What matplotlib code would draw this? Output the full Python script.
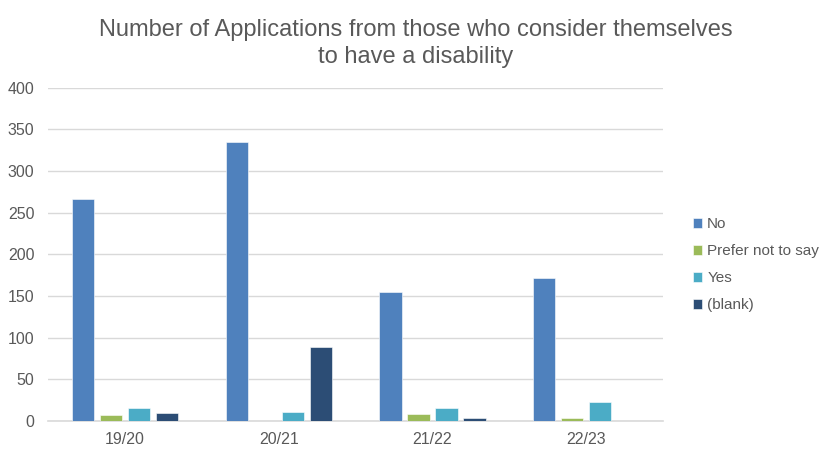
import numpy as np
import matplotlib.pyplot as plt

# data
years = ["19/20", "20/21", "21/22", "22/23"]
series_names = ["No", "Prefer not to say", "Yes", "(blank)"]
no_vals = [266, 335, 155, 172]
pnts_vals = [7, 0, 8, 4]
yes_vals = [16, 11, 15, 23]
blank_vals = [9, 89, 3, 0]

colors = ["#4F81BD", "#9BBB59", "#4BACC6", "#2C4D75"]

plt.rcParams["font.family"] = ["Liberation Sans", "DejaVu Sans"]

fig = plt.figure(figsize=(8.3, 4.57), dpi=100)
ax = fig.add_axes([0.058, 0.079, 0.741, 0.729])

x = np.arange(len(years))
pitch = 0.182
width = 0.145
all_vals = [no_vals, pnts_vals, yes_vals, blank_vals]
for i, (name, vals) in enumerate(zip(series_names, all_vals)):
    ax.bar(x + (i - 1.5) * pitch, vals, width, color=colors[i], label=name,
           edgecolor="white", linewidth=0.4, zorder=3)

ax.set_xlim(-0.5, len(years) - 0.5)
ax.set_ylim(0, 400)
ax.set_yticks(range(0, 401, 50))
ax.set_xticks(x)
ax.set_xticklabels(years)
ax.grid(axis="y", color="#D9D9D9", linewidth=1, zorder=0)
for s in ["left", "right", "top"]:
    ax.spines[s].set_visible(False)
ax.spines["bottom"].set_color("#D9D9D9")
ax.spines["bottom"].set_linewidth(1.2)
ax.tick_params(axis="both", length=0, labelsize=11.5, colors="#595959")
ax.tick_params(axis="y", pad=10)
ax.tick_params(axis="x", pad=8)

fig.text(0.501, 0.905, "Number of Applications from those who consider themselves\nto have a disability",
         ha="center", va="center", fontsize=17, color="#595959", linespacing=1.25)

fig.legend(loc="center left", bbox_to_anchor=(0.818, 0.421), frameon=False,
           fontsize=11, labelcolor="#595959", handlelength=0.6, handleheight=0.6,
           handletextpad=0.35, labelspacing=0.85)

fig.savefig("out.png", dpi=100)
